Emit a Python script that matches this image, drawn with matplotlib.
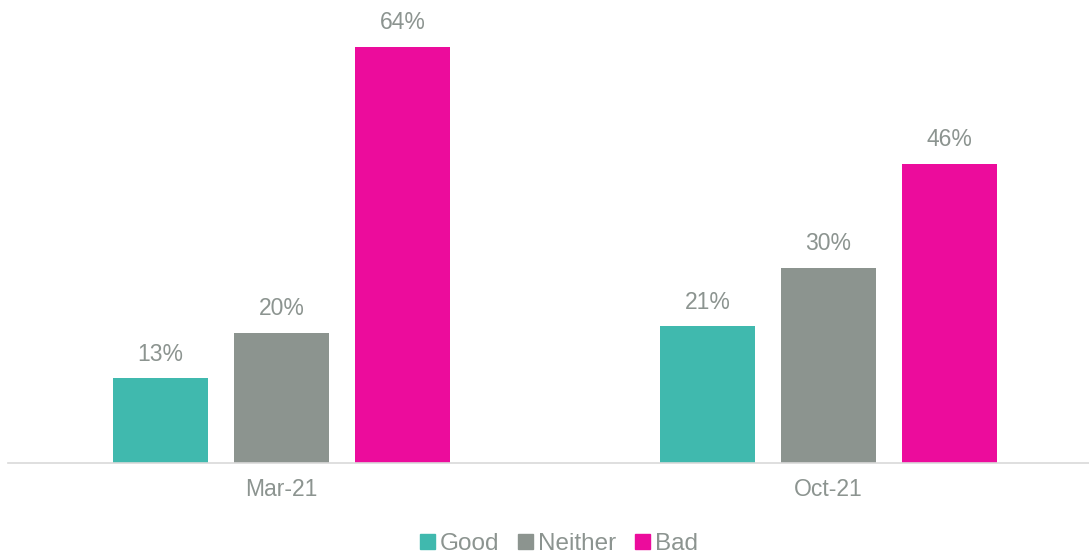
import numpy as np
import matplotlib.pyplot as plt
from matplotlib.patches import Patch

plt.rcParams['font.family'] = ['Liberation Sans', 'DejaVu Sans']

periods = ['Mar-21', 'Oct-21']
series = ['Good', 'Neither', 'Bad']
good = [13, 21]
neither = [20, 30]
bad = [64, 46]
colors = ['#40B9AE', '#8C948F', '#EC0C9C']
text_grey = '#8C9490'

fig = plt.figure(figsize=(10.89, 5.54), dpi=100)
ax = fig.add_axes([8 / 1089, 91 / 554, 1094 / 1089, 463 / 554])

x = np.arange(len(periods))
width = 0.174
step = 0.221
for i, (name, vals) in enumerate(zip(series, [good, neither, bad])):
    bars = ax.bar(x + (i - 1) * step, vals, width, color=colors[i], label=name)
    for b, v in zip(bars, vals):
        ax.annotate(f'{v}%', (b.get_x() + b.get_width() / 2, v),
                    xytext=(0, 9), textcoords='offset points',
                    ha='center', va='bottom', fontsize=16.5, color=text_grey)

ax.set_xlim(-0.5, 1.5)
ax.set_ylim(0, 71.2)
ax.set_xticks(x)
ax.set_xticklabels(periods, fontsize=16.5, color=text_grey)
ax.tick_params(axis='x', length=0, pad=11)
ax.set_yticks([])
for s in ['top', 'right', 'left']:
    ax.spines[s].set_visible(False)
ax.spines['bottom'].set_color('#D9D9D9')
ax.spines['bottom'].set_linewidth(1.2)

handles = [Patch(color=c) for c in colors]
leg = fig.legend(handles, series, loc='center', bbox_to_anchor=(559 / 1089, 10 / 554),
                 ncol=3, frameon=False, fontsize=17.5, handlelength=0.6,
                 handleheight=0.6, handletextpad=0.2, columnspacing=0.8,
                 borderpad=0)
for t in leg.get_texts():
    t.set_color(text_grey)

fig.savefig('out.png', dpi=100)
